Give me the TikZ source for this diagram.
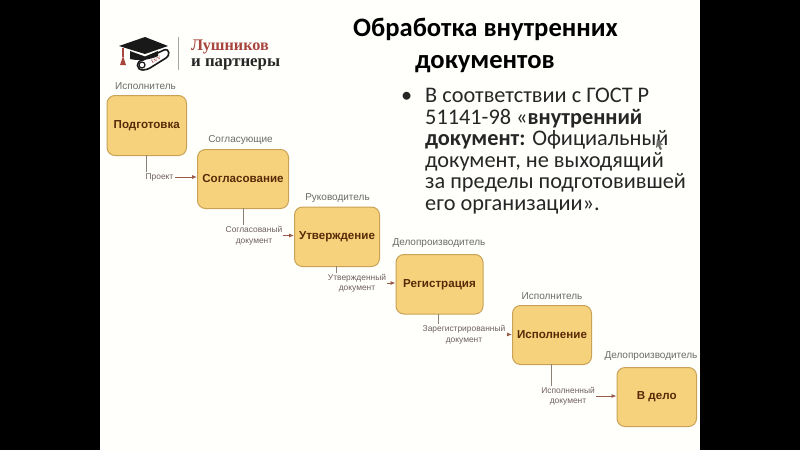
\documentclass[tikz,border=0pt]{standalone}
\usepackage{fontspec}
\setmainfont{Liberation Sans}
\newfontfamily\titlefont{Carlito}
\newfontfamily\logofont{Liberation Serif}
\usetikzlibrary{arrows.meta}
\definecolor{boxfill}{HTML}{F6D27C}
\definecolor{boxline}{HTML}{C9A257}
\definecolor{boxtext}{HTML}{5A2A08}
\definecolor{rolecol}{HTML}{6A6A6A}
\definecolor{flowcol}{HTML}{6E5F5F}
\definecolor{linecol}{HTML}{8C8078}
\definecolor{arrowcol}{HTML}{9A5A4A}
\definecolor{logored}{HTML}{A8453F}
\tikzset{
  x=1pt,y=-1pt,
  stagebox/.style={draw=boxline,line width=1pt,fill=boxfill,rounded corners=8pt,inner sep=0pt},
  stagetext/.style={text=boxtext,font=\fontsize{11.6}{14}\selectfont\bfseries,inner sep=0pt},
  role/.style={text=rolecol,font=\fontsize{10}{11}\selectfont,inner sep=0pt},
  flowlabel/.style={text=flowcol,font=\fontsize{8.4}{10.5}\selectfont,align=center,inner sep=1pt},
  drop/.style={draw=linecol,line width=.8pt},
  feed/.style={draw=arrowcol,line width=.8pt,-{Latex[length=5pt,width=4pt]}},
  slidetext/.style={anchor=base west,inner sep=0pt,text=black!85,font=\titlefont\fontsize{22.3}{24}\selectfont},
  slidetitle/.style={anchor=base west,inner sep=0pt,text=black,font=\titlefont\bfseries\fontsize{26.6}{28}\selectfont},
}
\newcommand{\stage}[6]{% name x0 y0 x1 y1 text
  \node[stagebox,minimum width=#4pt-#2pt,minimum height=#5pt-#3pt,anchor=north west] (#1) at (#2,#3) {};
  \node[stagetext] (#1t) at (#1.center) {#6};
}
\begin{document}
\begin{tikzpicture}
\useasboundingbox (0,0) rectangle (800,450);
\fill[black] (0,0) rectangle (800,450);
\fill[white!99!yellow] (100,0) rectangle (700,450);

% logo
\draw[black!90,line width=1.6pt,fill=white] (143,70) .. controls (136,70) and (135,61) .. (143,60) -- (164,50) .. controls (170,48) and (170,56) .. (166,58) -- (150,68) .. controls (148,69) and (146,70) .. (143,70);
\draw[black!90,line width=1.2pt] (142,65) circle (3);
\fill[black!90] (119,46) -- (145,37) -- (168,46) -- (145,54) -- cycle;
\fill[black!90] (130,51) -- (145,56.5) -- (158,51) -- (158,56) .. controls (150,60) and (138,61) .. (130,59) -- cycle;
\fill[logored] (122,48) rectangle (124,57);
\fill[logored] (123,56) -- (126,65) -- (120,65) -- cycle;
\node[inner sep=0pt,text=logored,font=\logofont\bfseries\fontsize{5}{5}\selectfont,rotate=28] (lv) at (156,60) {LVV};
\draw[black!35,line width=.8pt] (178.5,37) -- (178.5,70);
\node[anchor=base west,inner sep=0pt,text=logored,font=\logofont\bfseries\fontsize{16.2}{16}\selectfont] (l1) at (191,50) {Лушников};
\node[anchor=base west,inner sep=0pt,text=black!85,font=\logofont\bfseries\fontsize{16.8}{16}\selectfont] (l2) at (191,66) {и партнеры};

% title
\node[slidetitle] (t1) at (353,36.5) {Обработка внутренних};
\node[slidetitle] (t2) at (415,68.5) {документов};

% bullet
\node[slidetext] (bul) at (401,102) {•};
\node[slidetext] (b1) at (425,102) {В соответствии с ГОСТ Р};
\node[slidetext] (b2) at (425,124) {51141-98 «\textbf{внутренний}};
\node[slidetext] (b3) at (425,145.5) {\textbf{документ:} Официальный};
\node[slidetext] (b4) at (425,167) {документ, не выходящий};
\node[slidetext] (b5) at (425,188.5) {за пределы подготовившей};
\node[slidetext] (b6) at (425,210) {его организации».};

% stages
\stage{a}{106.5}{95}{186}{155}{Подготовка}
\stage{b}{197}{149}{288}{208}{Согласование}
\stage{c}{294}{206.5}{379}{266}{Утверждение}
\stage{d}{395.5}{254}{482.5}{313.5}{Регистрация}
\stage{e}{512}{305}{591}{364}{Исполнение}
\stage{f}{616.5}{367}{696}{426}{В дело}

% roles
\node[role] (ra) at (145.5,86) {Исполнитель};
\node[role] (rb) at (240.5,140) {Согласующие};
\node[role] (rc) at (337.5,198) {Руководитель};
\node[role] (rd) at (439,243) {Делопроизводитель};
\node[role] (re) at (552,296) {Исполнитель};
\node[role] (rf) at (651,356) {Делопроизводитель};

% flow labels
\node[flowlabel] (fa) at (159.5,177) {Проект};
\node[flowlabel] (fb) at (254,235.5) {Согласованый\\документ};
\node[flowlabel] (fc) at (357,283) {Утвержденный\\документ};
\node[flowlabel] (fd) at (464,334.5) {Зарегистрированный\\документ};
\node[flowlabel] (fe) at (568,396) {Исполненный\\документ};

% connectors
\coordinate (a0) at (146,155);
\draw[drop] (a0) -- (a0 |- fa.north);
\draw[feed] (fa.east) -- (fa.east -| b.west);
\coordinate (b0) at (243,208);
\draw[drop] (b0) -- (b0 |- fb.north);
\draw[feed] (fb.east) -- (fb.east -| c.west);
\coordinate (c0) at (336.5,266);
\draw[drop] (c0) -- (c0 |- fc.north);
\draw[feed] (fc.east) -- (fc.east -| d.west);
\coordinate (d0) at (438.5,313.5);
\draw[drop] (d0) -- (d0 |- fd.north);
\draw[feed] (fd.east) -- (fd.east -| e.west);
\coordinate (e0) at (551.5,364);
\draw[drop] (e0) -- (e0 |- fe.north);
\draw[feed] (fe.east) -- (fe.east -| f.west);

% cursor
\fill[black!55] (657,139) -- (663,145) -- (660,145) -- (662,149) -- (660,150) -- (658,146) -- (656,148) -- cycle;
\end{tikzpicture}
\end{document}
